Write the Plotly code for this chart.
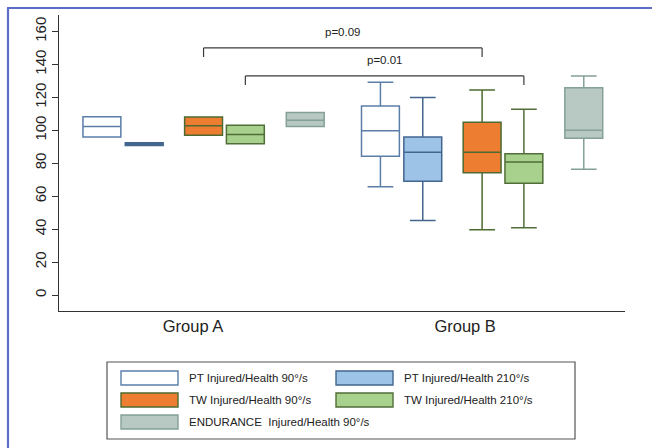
import plotly.graph_objects as go

# ---------------- data ----------------
groups = ["Group A", "Group B"]
series_names = [
    "PT Injured/Health 90°/s",
    "PT Injured/Health 210°/s",
    "TW Injured/Health 90°/s",
    "TW Injured/Health 210°/s",
    "ENDURANCE  Injured/Health 90°/s",
]
pt90_low = [96.0, 65.8]
pt90_q1 = [96.0, 84.2]
pt90_med = [102.3, 99.8]
pt90_q3 = [108.3, 114.8]
pt90_high = [108.3, 129.2]

pt210_low = [90.7, 45.2]
pt210_q1 = [90.7, 69.1]
pt210_med = [91.6, 86.7]
pt210_q3 = [92.5, 96.0]
pt210_high = [92.5, 119.9]

tw90_low = [97.0, 39.7]
tw90_q1 = [97.0, 74.3]
tw90_med = [102.7, 86.7]
tw90_q3 = [108.1, 104.9]
tw90_high = [108.1, 124.5]

tw210_low = [91.9, 40.9]
tw210_q1 = [91.9, 67.9]
tw210_med = [97.4, 80.8]
tw210_q3 = [103.1, 85.8]
tw210_high = [103.1, 112.8]

end_low = [102.3, 76.4]
end_q1 = [102.3, 95.2]
end_med = [106.1, 100.0]
end_q3 = [110.8, 125.9]
end_high = [110.8, 133.0]

p_labels = ["p=0.09", "p=0.01"]
p_series = [2, 3]          # series index compared between groups
p_levels = [150.0, 133.0]  # bracket height (y value)
y_ticks = [0, 20, 40, 60, 80, 100, 120, 140, 160]

# ---------------- styling / layout ----------------
fills = ["#ffffff", "#9dc3e6", "#ed7d31", "#a9d18e", "#b7c9c2"]
lines = ["#5a7ea8", "#43668f", "#4d6b30", "#526e38", "#84a099"]
offsets = [-0.365, -0.213, 0.0, 0.150, 0.365]
box_w = 0.136

stats = [
    (pt90_low, pt90_q1, pt90_med, pt90_q3, pt90_high),
    (pt210_low, pt210_q1, pt210_med, pt210_q3, pt210_high),
    (tw90_low, tw90_q1, tw90_med, tw90_q3, tw90_high),
    (tw210_low, tw210_q1, tw210_med, tw210_q3, tw210_high),
    (end_low, end_q1, end_med, end_q3, end_high),
]

W, H = 652, 448
ML, MR, MT, MB = 59, 27, 15, 137
PW, PH = W - ML - MR, H - MT - MB


def px(xp):
    return (xp - ML) / PW


def py(yp):
    return (H - MB - yp) / PH


fig = go.Figure()
for i, (lo, q1, med, q3, hi) in enumerate(stats):
    fig.add_trace(go.Box(
        x=[g + offsets[i] for g in range(len(groups))],
        lowerfence=lo, q1=q1, median=med, q3=q3, upperfence=hi,
        width=box_w, whiskerwidth=0.68,
        fillcolor=fills[i], line=dict(color=lines[i], width=1.5),
        boxpoints=False, name=series_names[i], showlegend=False,
        hoverinfo="skip",
    ))

shapes = []
annotations = []
for lab, si, lev in zip(p_labels, p_series, p_levels):
    xa = 0 + offsets[si]
    xb = 1 + offsets[si]
    lc = "#3a3a3a"
    shapes.append(dict(type="line", xref="x", yref="y", x0=xa, x1=xb, y0=lev, y1=lev,
                       line=dict(color=lc, width=1.2)))
    shapes.append(dict(type="line", xref="x", yref="y", x0=xa, x1=xa, y0=lev, y1=lev - 5.5,
                       line=dict(color=lc, width=1.2)))
    shapes.append(dict(type="line", xref="x", yref="y", x0=xb, x1=xb, y0=lev, y1=lev - 5.5,
                       line=dict(color=lc, width=1.2)))
    annotations.append(dict(x=(xa + xb) / 2, y=lev + 9.5, xref="x", yref="y", text=lab,
                            showarrow=False, font=dict(size=11.5, color="#222"),
                            xanchor="center", yanchor="middle"))

# blue slide frame (left and top)
frame_c = "#5d6cc4"
shapes.append(dict(type="line", xref="paper", yref="paper", x0=px(8), x1=px(8),
                   y0=py(8), y1=py(H + 2), line=dict(color=frame_c, width=2.2)))
shapes.append(dict(type="line", xref="paper", yref="paper", x0=px(7), x1=px(W + 2),
                   y0=py(8), y1=py(8), line=dict(color=frame_c, width=2.2)))

# manual legend
shapes.append(dict(type="rect", xref="paper", yref="paper", x0=px(107), x1=px(575),
                   y0=py(362), y1=py(439), line=dict(color="#555", width=1.2),
                   fillcolor="rgba(0,0,0,0)"))
row_y = [378, 400, 422]
col_x = [121, 336]
sw_w, sw_h = 57, 14
for i, name in enumerate(series_names):
    r, c = divmod(i, 2)
    x0 = col_x[c]
    yc = row_y[r]
    shapes.append(dict(type="rect", xref="paper", yref="paper", x0=px(x0), x1=px(x0 + sw_w),
                       y0=py(yc - sw_h / 2), y1=py(yc + sw_h / 2),
                       line=dict(color=lines[i], width=1.4), fillcolor=fills[i]))
    annotations.append(dict(x=px(x0 + sw_w + 9), y=py(yc), xref="paper", yref="paper",
                            text=name, showarrow=False, xanchor="left", yanchor="middle",
                            font=dict(size=11.5, color="#222")))

fig.update_layout(
    width=W, height=H,
    margin=dict(l=ML, r=MR, t=MT, b=MB, autoexpand=False),
    paper_bgcolor="white", plot_bgcolor="white",
    font=dict(family="Arial, Liberation Sans, sans-serif", color="#222"),
    showlegend=False,
    shapes=shapes, annotations=annotations,
    xaxis=dict(range=[-0.519, 1.513], tickvals=[-0.038, 0.939], ticktext=groups,
               showgrid=False, zeroline=False, showline=True, linecolor="#333", linewidth=1.2,
               ticks="", tickfont=dict(size=16.5, color="#222")),
    yaxis=dict(range=[-9.7, 170], tickvals=y_ticks, showgrid=False, zeroline=False,
               showline=True, linecolor="#333", linewidth=1.2, ticks="outside", ticklen=6,
               tickcolor="#333", tickangle=-90, tickfont=dict(size=15, color="#222")),
)

fig.write_html("out.html", config={"displayModeBar": False},
               post_script="document.body.style.margin='0';document.body.style.overflow='hidden';")
